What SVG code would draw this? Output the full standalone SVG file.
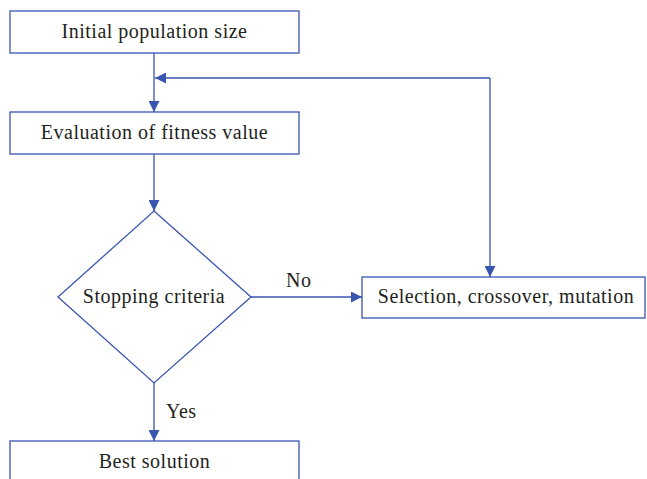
<svg xmlns="http://www.w3.org/2000/svg" width="647" height="479" viewBox="0 0 647 479">
<defs>
<style>
.box{fill:#fff;stroke:#3a55b0;stroke-width:1.3}
.ln{fill:none;stroke:#3a55b0;stroke-width:1.3}
.t{font-family:"Liberation Serif",serif;font-size:20px;letter-spacing:0.5px;fill:#231f20;text-anchor:middle}
.l{font-family:"Liberation Serif",serif;font-size:20px;letter-spacing:0.5px;fill:#231f20}
</style>
<marker id="ah" viewBox="0 0 10 10" refX="10" refY="5" markerWidth="11" markerHeight="11" markerUnits="userSpaceOnUse" orient="auto">
<path d="M0,0 L10,5 L0,10 Z" fill="#3a55b0"/>
</marker>
</defs>
<rect width="647" height="479" fill="#fff"/>
<g id="connectors">
<line class="ln" x1="154" y1="53" x2="154" y2="112" marker-end="url(#ah)"/>
<line class="ln" x1="490" y1="78" x2="155" y2="78" marker-end="url(#ah)"/>
<line class="ln" x1="490" y1="78" x2="490" y2="277" marker-end="url(#ah)"/>
<line class="ln" x1="154" y1="154" x2="154" y2="211" marker-end="url(#ah)"/>
<line class="ln" x1="251" y1="297" x2="362" y2="297" marker-end="url(#ah)"/>
<line class="ln" x1="154" y1="383" x2="154" y2="441" marker-end="url(#ah)"/>
<text class="l" x="286" y="287">No</text>
<text class="l" x="166" y="418">Yes</text>
</g>
<g id="initial">
<rect class="box" x="10" y="11" width="289" height="42"/>
<text class="t" x="154.5" y="38">Initial population size</text>
</g>
<g id="evaluation">
<rect class="box" x="10" y="112" width="289" height="42"/>
<text class="t" x="154.5" y="139">Evaluation of fitness value</text>
</g>
<g id="stopping">
<polygon class="box" points="154,211 251,297 154,383 58,297"/>
<text class="t" x="154" y="303">Stopping criteria</text>
</g>
<g id="selection">
<rect class="box" x="362" y="277" width="283" height="41"/>
<text class="t" x="506" y="303">Selection, crossover, mutation</text>
</g>
<g id="best">
<rect class="box" x="10" y="441" width="289" height="50"/>
<text class="t" x="154.5" y="468">Best solution</text>
</g>
</svg>
